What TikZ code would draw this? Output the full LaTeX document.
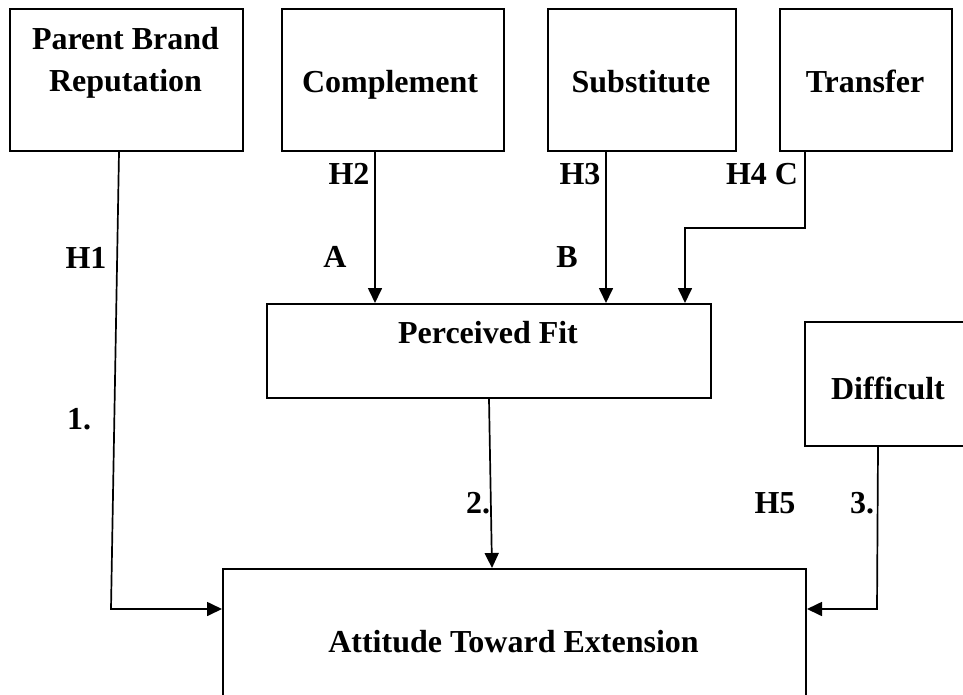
\documentclass[tikz,border=0pt]{standalone}
\usepackage{fontspec}
\setmainfont{Liberation Serif}
\usetikzlibrary{arrows.meta}
\begin{document}
\begin{tikzpicture}[x=1pt,y=-1pt,
  box/.style={draw, line width=2pt, inner sep=0pt, anchor=north west},
  lbl/.style={font=\fontsize{32}{38}\selectfont\bfseries, inner sep=0pt, anchor=base},
  conn/.style={line width=1.7pt},
  arr/.style={conn, -{Triangle[length=15pt,width=14pt]}}
]
\useasboundingbox (0,0) rectangle (963,695);

% boxes
\node[box, minimum width=233pt, minimum height=142pt] (pbr) at (9,8) {};
\node[box, minimum width=222pt, minimum height=142pt] (comp) at (281,8) {};
\node[box, minimum width=188pt, minimum height=142pt] (subs) at (547,8) {};
\node[box, minimum width=172pt, minimum height=142pt] (trans) at (779,8) {};
\node[box, minimum width=444pt, minimum height=94pt] (fit) at (266,303) {};
\node[box, minimum width=170pt, minimum height=124pt] (diff) at (804,321) {};
\node[box, minimum width=583pt, minimum height=140pt] (att) at (222,568) {};

% box texts
\node[lbl] (tpbr1) at (125.5,50) {Parent Brand};
\node[lbl] (tpbr2) at (125.5,92) {Reputation};
\node[lbl] (tcomp) at (390,93) {Complement};
\node[lbl] (tsubs) at (641,93) {Substitute};
\node[lbl] (ttrans) at (865,93) {Transfer};
\node[lbl] (tfit) at (488,343) {Perceived Fit};
\node[lbl] (tdiff) at (888,399) {Difficult};
\node[lbl] (tatt) at (513.5,652) {Attitude Toward Extension};

% labels
\node[lbl] (h1) at (86,268) {H1};
\node[lbl] (h2) at (349,185) {H2};
\node[lbl] (la) at (335,267) {A};
\node[lbl] (h3) at (580,185) {H3};
\node[lbl] (lb) at (567,267) {B};
\node[lbl] (h4) at (762,185) {H4 C};
\node[lbl] (n1) at (79,429) {1.};
\node[lbl] (n2) at (478,513) {2.};
\node[lbl] (h5) at (775,513) {H5};
\node[lbl] (n3) at (862,513) {3.};

% connectors
\coordinate (c1) at (111,609);
\draw[arr] ([xshift=-7.5pt]pbr.south) -- (c1) -- (att.west |- c1);

\draw[arr] ([xshift=-18pt]comp.south) coordinate (a1) -- (a1 |- fit.north);
\draw[arr] ([xshift=-36pt]subs.south) coordinate (b1) -- (b1 |- fit.north);

\coordinate (bend) at (685,228);
\draw[arr] ([xshift=-61pt]trans.south) |- (bend) -- (bend |- fit.north);

\draw[arr] (fit.south) -- ([xshift=-22.5pt]att.north);

\coordinate (c3) at (877,609);
\draw[arr] ([xshift=-12pt]diff.south) -- (c3) -- (att.east |- c3);
\end{tikzpicture}
\end{document}
